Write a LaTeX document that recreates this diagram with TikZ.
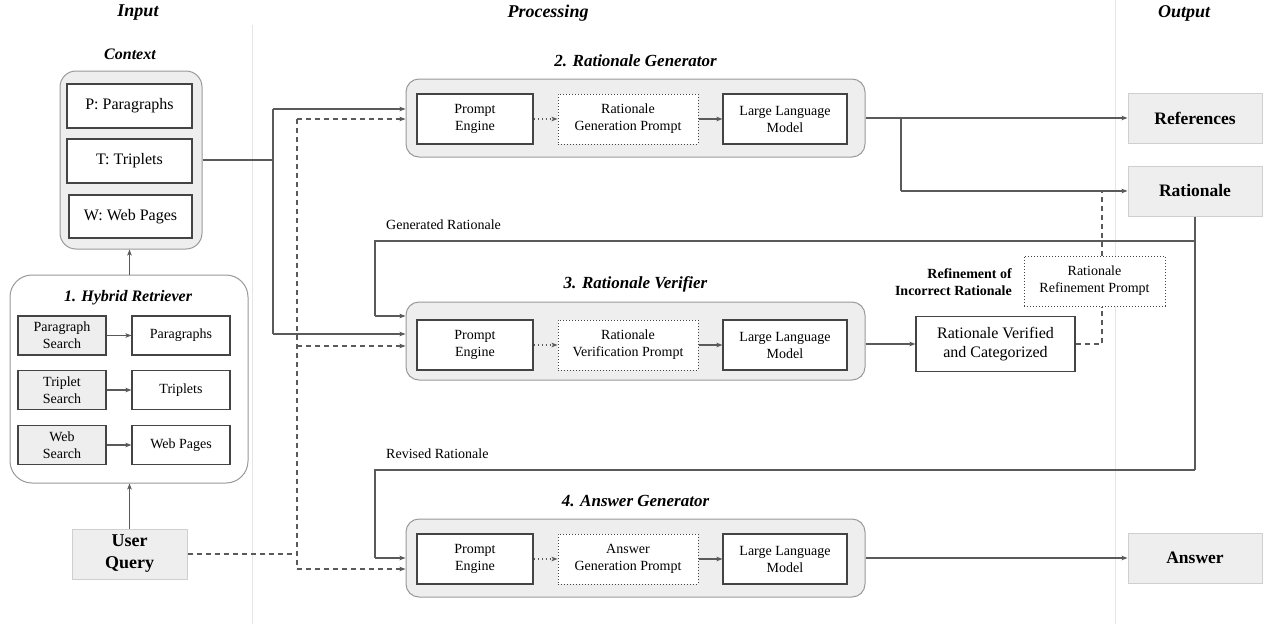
\documentclass[tikz,border=0pt]{standalone}
\usepackage{fontspec}
\setmainfont{Liberation Serif}
\usetikzlibrary{arrows.meta}
\definecolor{lgray}{HTML}{EEEEEE}
\definecolor{ln}{HTML}{5A5A5A}
\definecolor{bd}{HTML}{444444}
\definecolor{sep}{HTML}{E6E6E6}
\definecolor{stg}{HTML}{999999}
\definecolor{obd}{HTML}{CFCFCF}
\tikzset{
  bx/.style={draw=bd, line width=1.1pt, fill=white, inner sep=0pt, align=center, font=\fontsize{14}{17}\selectfont},
  dbx/.style={draw=bd, dotted, line width=1pt, fill=white, inner sep=0pt, align=center, font=\fontsize{14}{17}\selectfont},
  gbx/.style={draw=bd, line width=1.1pt, fill=lgray, inner sep=0pt, align=center, font=\fontsize{14}{17}\selectfont},
  cbx/.style={draw=bd, line width=1.1pt, fill=white, inner sep=0pt, align=center, font=\fontsize{16}{19}\selectfont},
  stage/.style={draw=stg, line width=1pt, fill=lgray, rounded corners=13pt, inner sep=0pt},
  outbox/.style={draw=obd, line width=1pt, fill=lgray, inner sep=0pt, align=center, font=\fontsize{17.5}{20}\selectfont\bfseries},
  ttl/.style={font=\fontsize{17}{20}\selectfont\bfseries\itshape},
  hdr/.style={font=\fontsize{18}{21}\selectfont\bfseries\itshape},
  conn/.style={draw=ln, line width=1.2pt, -{Stealth[length=6pt,width=4.5pt,inset=1.5pt]}},
  plain/.style={draw=ln, line width=1.2pt},
  dconn/.style={draw=ln, line width=1.2pt, dash pattern=on 5pt off 4pt, -{Stealth[length=6pt,width=4.5pt,inset=1.5pt]}},
  dplain/.style={draw=ln, line width=1.2pt, dash pattern=on 5pt off 4pt},
  dotconn/.style={draw=ln, line width=1.1pt, dash pattern=on 1.5pt off 2.5pt, -{Stealth[length=6pt,width=4.5pt,inset=1.5pt]}},
  lbl/.style={font=\fontsize{14}{17}\selectfont, inner sep=0pt}
}
\begin{document}
\begin{tikzpicture}[x=1pt,y=-1pt]
\useasboundingbox (0,0) rectangle (1265,624);
% separators
\draw[sep, line width=1pt] (252,25) -- (252,624);
\draw[sep, line width=1pt] (1115,0) -- (1115,624);
% headers
\node[hdr] (hin) at (138,13) {Input};
\node[hdr] (hpr) at (548,13) {Processing};
\node[hdr] (hout) at (1184,13) {Output};
% Context
\node[font=\fontsize{16}{19}\selectfont\bfseries\itshape] (ctxl) at (130,54) {Context};
\node[stage, rounded corners=16pt, minimum width=142pt, minimum height=178pt] (ctx) at (131,160) {};
\node[cbx, minimum width=125pt, minimum height=44pt] (cp) at (129.5,106) {P: Paragraphs};
\node[cbx, minimum width=125pt, minimum height=44pt] (ct) at (129.5,161) {T: Triplets};
\node[cbx, minimum width=123pt, minimum height=43pt] (cw) at (130.5,216.5) {W: Web Pages};
% Hybrid retriever
\node[stage, rounded corners=22pt, fill=white, minimum width=238pt, minimum height=208pt] (hyb) at (129,379) {};
\node[font=\fontsize{16}{19}\selectfont\bfseries\itshape] (hybl) at (128,298) {1. Hybrid Retriever};
\node[gbx, minimum width=88pt, minimum height=39pt] (ps) at (62,335.5) {Paragraph\\Search};
\node[bx, minimum width=98pt, minimum height=39pt] (pr) at (181,335.5) {Paragraphs};
\node[gbx, minimum width=88pt, minimum height=39pt] (ts) at (62,390) {Triplet\\Search};
\node[bx, minimum width=98pt, minimum height=39pt] (tr) at (181,390) {Triplets};
\node[gbx, minimum width=88pt, minimum height=39pt] (ws) at (62,445) {Web\\Search};
\node[bx, minimum width=98pt, minimum height=39pt] (wr) at (181,445) {Web Pages};
\draw[conn] (ps) -- (pr);
\draw[conn] (ts) -- (tr);
\draw[conn] (ws) -- (wr);
% User query
\node[outbox, font=\fontsize{18}{22}\selectfont\bfseries, minimum width=115pt, minimum height=50pt] (uq) at (129.5,554) {User\\Query};
\draw[conn] (uq.north) -- (uq.north |- hyb.south);
\draw[conn] (hyb.north -| uq.north) -- (uq.north |- ctx.south);
% Stages
\foreach \n/\y/\t in {rg/118/2. Rationale Generator, rv/341/3. Rationale Verifier, ag/558/4. Answer Generator}{
  \node[stage, minimum width=459pt, minimum height=78pt] (\n) at (635.5,\y) {};
  \node[ttl] (\n t) at (635.5,\y-57) {\t};
}
\node[bx, minimum width=116pt, minimum height=50pt] (rgpe) at (475,119) {Prompt\\Engine};
\node[dbx, minimum width=140pt, minimum height=50pt] (rgpp) at (628,119) {Rationale\\Generation Prompt};
\node[bx, minimum width=124pt, minimum height=50pt] (rgllm) at (785,119) {Large Language\\Model};
\node[bx, minimum width=116pt, minimum height=50pt] (rvpe) at (475,345) {Prompt\\Engine};
\node[dbx, minimum width=140pt, minimum height=50pt] (rvpp) at (628,345) {Rationale\\Verification Prompt};
\node[bx, minimum width=124pt, minimum height=50pt] (rvllm) at (785,345) {Large Language\\Model};
\node[bx, minimum width=116pt, minimum height=50pt] (agpe) at (475,559) {Prompt\\Engine};
\node[dbx, minimum width=140pt, minimum height=50pt] (agpp) at (628,559) {Answer\\Generation Prompt};
\node[bx, minimum width=124pt, minimum height=50pt] (agllm) at (785,559) {Large Language\\Model};
\foreach \s in {rg,rv,ag}{
  \draw[dotconn] (\s pe) -- (\s pp);
  \draw[conn] (\s pp) -- (\s llm);
}
% Outputs
\node[outbox, minimum width=134pt, minimum height=50pt] (ref) at (1195,118) {References};
\node[outbox, minimum width=134pt, minimum height=50pt] (rat) at (1195,191) {Rationale};
\node[outbox, minimum width=134pt, minimum height=50pt] (ans) at (1195,558) {Answer};
% Verified box and refinement
\node[bx, font=\fontsize{16}{19}\selectfont, minimum width=159pt, minimum height=55pt] (rvb) at (995.5,344) {Rationale Verified\\and Categorized};
\node[dbx, minimum width=141pt, minimum height=50pt] (rfp) at (1094.5,281) {Rationale\\Refinement Prompt};
\node[font=\fontsize{14}{17}\selectfont\bfseries, align=right, anchor=east, inner sep=0pt] (rfl) at (1012,282) {Refinement of\\Incorrect Rationale};
% context connections
\coordinate (cj) at (273,160);
\coordinate (cjt) at (273,109);
\coordinate (cjb) at (273,334);
\draw[plain] (ctx.east |- cj) -- (cj);
\draw[plain] (cjt) -- (cjb);
\draw[conn] (cjt) -- (cjt -| rg.west);
\draw[conn] (cjb) -- (cjb -| rv.west);
% user query dashed
\coordinate (dj) at (297,554);
\coordinate (djt) at (297,119);
\coordinate (djm) at (297,346);
\coordinate (djb) at (297,569);
\draw[dplain] (uq.east |- dj) -- (dj);
\draw[dplain] (djt) -- (djb);
\draw[dconn] (djt) -- (djt -| rg.west);
\draw[dconn] (djm) -- (djm -| rv.west);
\draw[dconn] (djb) -- (djb -| ag.west);
% RG outputs
\coordinate (rgj) at (901,118);
\draw[conn] (rg.east |- ref) -- (ref.west);
\draw[plain] (rgj) -- (rgj |- rat);
\draw[conn] (rgj |- rat) -- (rat.west);
% Rationale feedback
\coordinate (ra1) at (1195,241);
\coordinate (ra2) at (1195,470);
\coordinate (gl) at (375,241);
\coordinate (gl2) at (375,316);
\coordinate (rl) at (375,470);
\coordinate (rl2) at (375,558);
\draw[plain] (rat.south) -- (ra2);
\draw[plain] (ra1) -- (gl) -- (gl2);
\draw[conn] (gl2) -- (gl2 -| rv.west);
\draw[plain] (ra2) -- (rl) -- (rl2);
\draw[conn] (rl2) -- (rl2 -| ag.west);
\node[lbl, anchor=west] (glbl) at (386,225) {Generated Rationale};
\node[lbl, anchor=west] (rlbl) at (386,454) {Revised Rationale};
% RV output
\draw[conn] (rv.east |- rvb) -- (rvb.west);
% refinement dashed
\coordinate (rf1) at (1102,344);
\coordinate (rf2) at (1102,191);
\draw[dplain] (rvb.east) -- (rf1) -- (rf1 |- rfp.south);
\draw[dplain] (rf1 |- rfp.north) -- (rf2) -- (1114,191);
% answer
\draw[conn] (ag.east |- ans) -- (ans.west);
\end{tikzpicture}
\end{document}
